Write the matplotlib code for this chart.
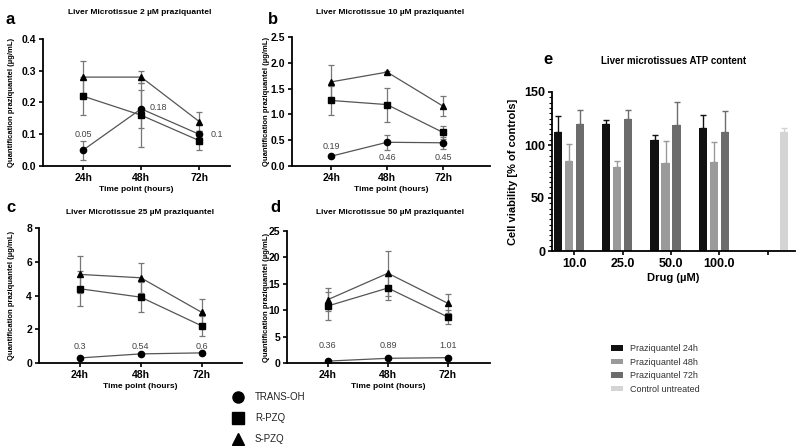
import numpy as np
import matplotlib
matplotlib.use("Agg")
import matplotlib.pyplot as plt
from matplotlib.ticker import MultipleLocator

plt.rcParams['font.family'] = ['Liberation Sans', 'DejaVu Sans']

# line panels a-d
time_labels = ["24h", "48h", "72h"]
series_names = ["TRANS-OH", "R-PZQ", "S-PZQ"]
series_markers = ["o", "s", "^"]

# 2 uM
a_trans = [0.05, 0.18, 0.10]
a_trans_err = [0.03, 0.06, 0.01]
a_r = [0.22, 0.16, 0.08]
a_r_err = [0.06, 0.10, 0.03]
a_s = [0.28, 0.28, 0.14]
a_s_err = [0.05, 0.02, 0.03]
a_notes = ["0.05", "0.18", "0.1"]

# 10 uM
b_trans = [0.19, 0.46, 0.45]
b_trans_err = [0.01, 0.15, 0.12]
b_r = [1.27, 1.19, 0.65]
b_r_err = [0.28, 0.33, 0.13]
b_s = [1.63, 1.82, 1.16]
b_s_err = [0.32, 0.03, 0.19]
b_notes = ["0.19", "0.46", "0.45"]

# 25 uM
c_trans = [0.3, 0.54, 0.6]
c_trans_err = [0.05, 0.08, 0.05]
c_r = [4.4, 3.9, 2.2]
c_r_err = [1.05, 0.9, 0.6]
c_s = [5.25, 5.05, 3.0]
c_s_err = [1.1, 0.9, 0.8]
c_notes = ["0.3", "0.54", "0.6"]

# 50 uM
d_trans = [0.36, 0.89, 1.01]
d_trans_err = [0.1, 0.2, 0.15]
d_r = [10.8, 14.2, 8.7]
d_r_err = [2.6, 2.3, 1.4]
d_s = [12.0, 17.0, 11.3]
d_s_err = [2.2, 4.3, 1.8]
d_notes = ["0.36", "0.89", "1.01"]

# panel e, ATP content
drug_labels = ["10.0", "25.0", "50.0", "100.0"]
atp_24 = [112, 120, 105, 116]
atp_24_err = [15, 4, 4, 12]
atp_48 = [85, 79, 83, 84]
atp_48_err = [16, 6, 21, 19]
atp_72 = [120, 125, 119, 112]
atp_72_err = [13, 8, 22, 20]
control = 112
control_err = 4
bar_names = ["Praziquantel 24h", "Praziquantel 48h", "Praziquantel 72h", "Control untreated"]
bar_colors = ["#111111", "#9a9a9a", "#6c6c6c", "#d4d4d4"]

W, H = 800, 446
fig = plt.figure(figsize=(8, 4.46), dpi=100)


def px_axes(left, top, right, bottom):
    return fig.add_axes([left / W, (H - bottom) / H, (right - left) / W, (bottom - top) / H])


def style_axes(ax):
    for s in ["top", "right"]:
        ax.spines[s].set_visible(False)
    for s in ["left", "bottom"]:
        ax.spines[s].set_linewidth(1.3)
    ax.tick_params(width=1.2, length=3, labelsize=7.5, pad=2)
    for lab in ax.get_xticklabels() + ax.get_yticklabels():
        lab.set_fontweight("bold")


def line_panel(box, xlim, ymax, ystep, data, notes, note_pos, title, letter, letter_xy, title_xy,
               ylabel_x, yfmt):
    ax = px_axes(*box)
    x = np.arange(len(time_labels))
    for (vals, errs), mk in zip(data, series_markers):
        ax.errorbar(x, vals, yerr=errs, color="#555555", lw=0.9, ecolor="#777777",
                    elinewidth=0.9, capsize=2.5, capthick=0.9, zorder=2)
        ax.plot(x, vals, ls="none", marker=mk, color="black", ms=4.5, zorder=3)
    for t, (nx, ny) in zip(notes, note_pos):
        ax.text(nx, ny, t, fontsize=6.5, color="#444444", ha="center", va="center")
    ax.set_xlim(*xlim)
    ax.set_ylim(0, ymax)
    ax.set_yticks(np.arange(0, ymax + ystep / 2, ystep))
    ax.yaxis.set_major_formatter(plt.FormatStrFormatter(yfmt))
    ax.set_xticks(x)
    ax.set_xticklabels(time_labels)
    style_axes(ax)
    ax.set_xlabel("Time point (hours)", fontsize=6, fontweight="bold", labelpad=2)
    fig.text(title_xy[0] / W, 1 - title_xy[1] / H, title, fontsize=6, fontweight="bold",
             ha="center", va="center")
    fig.text(letter_xy[0] / W, 1 - letter_xy[1] / H, letter, fontsize=12, fontweight="bold",
             ha="left", va="center")
    fig.text(ylabel_x / W, 1 - ((box[1] + box[3]) / 2) / H,
             "Quantification praziquantel (\u00b5g/mL)", fontsize=5.5, fontweight="bold",
             rotation=90, ha="center", va="center")
    return ax


line_panel((43, 39, 230, 166), (-0.69, 2.53), 0.4, 0.1,
           [(a_trans, a_trans_err), (a_r, a_r_err), (a_s, a_s_err)],
           a_notes, [(0, 0.1), (1.3, 0.185), (2.3, 0.1)],
           "Liver Microtissue 2 \u00b5M praziquantel", "a", (6, 20), (140, 12), 12, "%.1f")

line_panel((292, 37, 490, 166), (-0.7, 2.84), 2.5, 0.5,
           [(b_trans, b_trans_err), (b_r, b_r_err), (b_s, b_s_err)],
           b_notes, [(0, 0.37), (1, 0.17), (2, 0.17)],
           "Liver Microtissue 10 \u00b5M praziquantel", "b", (268, 20), (390, 12), 266, "%.1f")

line_panel((39, 228, 242, 363), (-0.67, 2.66), 8, 2,
           [(c_trans, c_trans_err), (c_r, c_r_err), (c_s, c_s_err)],
           c_notes, [(0, 1.0), (1, 1.0), (2, 1.0)],
           "Liver Microtissue 25 \u00b5M praziquantel", "c", (6, 208), (140, 212), 12, "%d")

line_panel((287, 231, 490, 363), (-0.68, 2.7), 25, 5,
           [(d_trans, d_trans_err), (d_r, d_r_err), (d_s, d_s_err)],
           d_notes, [(0, 3.4), (1, 3.4), (2, 3.4)],
           "Liver Microtissue 50 \u00b5M praziquantel", "d", (270, 207), (390, 213), 266, "%d")

# shared legend for the line panels
for i, (name, mk) in enumerate(zip(series_names, series_markers)):
    yy = 397 + 21 * i
    fig.lines.append(plt.Line2D([238 / W], [1 - yy / H], marker=mk, color="black", ms=8,
                                transform=fig.transFigure, ls="none"))
    fig.text(255 / W, 1 - yy / H, name, fontsize=7, color="#222222", ha="left", va="center")

# panel e
ax = px_axes(552, 92, 795, 251)
slot = 0.227
bw = 0.17
g = np.arange(len(drug_labels))
groups = [(atp_24, atp_24_err), (atp_48, atp_48_err), (atp_72, atp_72_err)]
for k, (vals, errs) in enumerate(groups):
    xs = g + (k - 1.5) * slot
    ax.bar(xs, vals, width=bw, color=bar_colors[k], label=bar_names[k], zorder=2)
    ax.errorbar(xs, vals, yerr=[np.zeros(len(errs)), errs], ls="none",
                ecolor=bar_colors[k], elinewidth=1.0, capsize=2, capthick=1.0, zorder=1)
cx = len(drug_labels) + 1.5 * slot
ax.bar([cx], [control], width=bw, color=bar_colors[3], label=bar_names[3], zorder=2)
ax.errorbar([cx], [control], yerr=[[0], [control_err]], ls="none", ecolor=bar_colors[3],
            elinewidth=1.0, capsize=2, capthick=1.0, zorder=1)
ax.set_xlim(-0.46, 4.56)
ax.set_ylim(0, 150)
ax.set_yticks([0, 50, 100, 150])
ax.yaxis.set_minor_locator(MultipleLocator(5))
ax.set_xticks(np.arange(len(drug_labels) + 1))
ax.set_xticklabels(drug_labels + [""])
style_axes(ax)
ax.tick_params(axis="y", which="minor", length=2, width=0.8)
ax.tick_params(labelsize=9)
for lab in ax.get_xticklabels() + ax.get_yticklabels():
    lab.set_fontweight("bold")
ax.set_xlabel("Drug (\u00b5M)", fontsize=8, fontweight="bold", labelpad=2)
ax.set_ylabel("Cell viability [% of controls]", fontsize=8, fontweight="bold", labelpad=4)
ax.set_title("Liver microtissues ATP content", fontsize=7, fontweight="bold", pad=20)
fig.text(543 / W, 1 - 60 / H, "e", fontsize=12, fontweight="bold", ha="left", va="center")
ax.legend(loc="upper left", bbox_to_anchor=(603 / W, 1 - 336 / H), bbox_transform=fig.transFigure,
          frameon=False, fontsize=6.5, handlelength=1.3, handleheight=0.6, labelspacing=0.5,
          handletextpad=0.8, labelcolor="#333333")

fig.savefig("out.png", dpi=100)
